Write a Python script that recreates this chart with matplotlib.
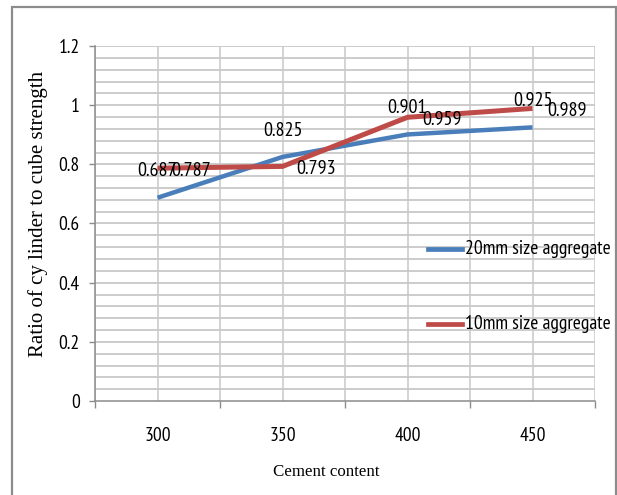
import matplotlib
matplotlib.use("Agg")
import matplotlib.pyplot as plt
from matplotlib.patches import Rectangle
from matplotlib.lines import Line2D
import numpy as np

cement = ["300", "350", "400", "450"]
agg20 = [0.687, 0.825, 0.901, 0.925]
agg10 = [0.787, 0.793, 0.959, 0.989]
series_names = ["20mm size aggregate", "10mm size aggregate"]

BLUE = "#4A7EBB"
RED = "#BE4B48"
GRID = "#C8C8C8"
SANS = ["PT Sans Narrow", "DejaVu Sans"]
SERIF = ["Liberation Serif", "DejaVu Serif"]
FS = 14
FS_LABEL = 14.5

fig = plt.figure(figsize=(6.17, 4.95), dpi=100)
W, H = 617, 495

# outer chart frame
fig.add_artist(Rectangle((11.5 / W, -0.05), (616 - 11.5) / W, 1.05 - 7 / H,
                         transform=fig.transFigure, fill=False,
                         edgecolor="#8C8C8C", lw=1.6))

ax = fig.add_axes([95 / W, 1 - 401 / H, (595 - 95) / W, (401 - 46) / H])
x = np.arange(len(cement))

ax.set_xlim(-0.5, len(cement) - 0.5)
ax.set_ylim(0, 1.2)

# grid: category and boundary verticals, horizontal every 0.04
for xv in np.arange(-0.5, len(cement), 0.5):
    ax.axvline(xv, color=GRID, lw=1.1, zorder=0)
for yv in np.arange(0.04, 1.2001, 0.04):
    ax.axhline(yv, color=GRID, lw=1.3, zorder=0)

ax.plot(x, agg20, color=BLUE, lw=3.2, solid_capstyle="butt", zorder=3)
ax.plot(x, agg10, color=RED, lw=3.6, solid_capstyle="butt", zorder=4)

for xi, v in zip(x, agg20):
    ax.annotate(f"{v:g}", (xi, v), xytext=(0, 19), textcoords="offset points",
                ha="center", va="center", fontsize=FS_LABEL, family=SANS, zorder=5)
for xi, v in zip(x, agg10):
    ax.annotate(f"{v:g}", (xi, v), xytext=(24.5, -2), textcoords="offset points",
                ha="center", va="center", fontsize=FS_LABEL, family=SANS, zorder=5)

ax.set_yticks(np.arange(0, 1.21, 0.2))
ax.set_yticklabels(["0", "0.2", "0.4", "0.6", "0.8", "1", "1.2"])
ax.set_xticks(x)
ax.set_xticklabels(cement)
ax.set_xticks(np.arange(-0.5, len(cement), 1.0), minor=True)
ax.tick_params(axis="x", which="major", length=0, pad=19)
ax.tick_params(axis="x", which="minor", length=5, color="#8C8C8C", width=1)
ax.tick_params(axis="y", length=4.5, color="#8C8C8C", width=1, pad=6.5)
for lab in ax.get_xticklabels() + ax.get_yticklabels():
    lab.set_family(SANS)
    lab.set_fontsize(FS)

for s in ["top", "right"]:
    ax.spines[s].set_visible(False)
for s in ["left", "bottom"]:
    ax.spines[s].set_color("#8C8C8C")
    ax.spines[s].set_linewidth(1.1)

fig.text(38 / W, 1 - 214 / H, "Ratio of cy linder to cube strength",
         rotation=90, ha="center", va="center", fontsize=15, family=SERIF)
fig.text(326 / W, 1 - 472 / H, "Cement content",
         ha="center", va="center", fontsize=12.2, family=SERIF)

# legend entries at the right side
for (name, col, ypx) in [(series_names[0], BLUE, 249), (series_names[1], RED, 324)]:
    fig.add_artist(Line2D([428 / W, 462 / W], [1 - ypx / H, 1 - ypx / H],
                          color=col, lw=3.4, transform=fig.transFigure))
    fig.text(465 / W, 1 - ypx / H, name, ha="left", va="center",
             fontsize=FS, family=SANS)

fig.savefig("out.png", dpi=100)
